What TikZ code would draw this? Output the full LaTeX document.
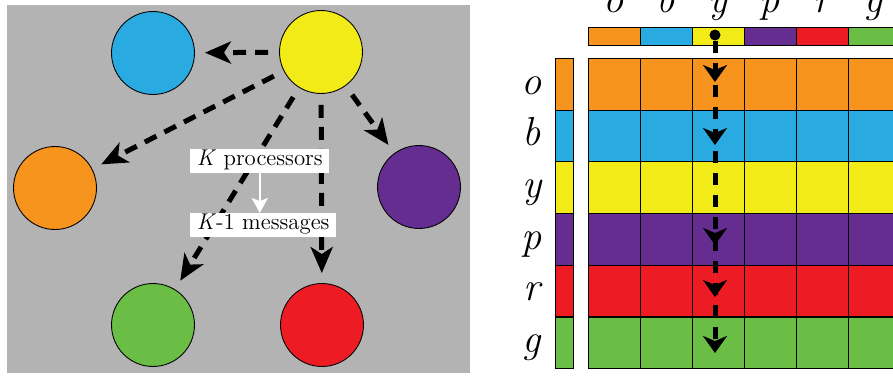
\documentclass[tikz,border=0pt]{standalone}
\usetikzlibrary{arrows.meta}

\definecolor{orng}{RGB}{247,148,30}
\definecolor{blu}{RGB}{41,171,226}
\definecolor{ylw}{RGB}{242,235,24}
\definecolor{prpl}{RGB}{102,45,145}
\definecolor{rd}{RGB}{237,28,36}
\definecolor{grn}{RGB}{106,189,69}
\definecolor{bggray}{RGB}{179,179,179}

\begin{document}
\begin{tikzpicture}[
        x=0.02cm, y=-0.02cm,
        proc/.style = {circle, draw=black, line width=0.5pt, minimum size=1.66cm, inner sep=0pt},
        msg/.style = {line width=0.1cm, dash pattern=on 0.26cm off 0.18cm,
                      -{Stealth[length=0.52cm, width=0.44cm, inset=0.14cm]},
                      shorten <=0.22cm, shorten >=0.2cm},
        bcast/.style = {line width=0.1cm, dash pattern=on 0.24cm off 0.2cm,
                      -{Stealth[length=0.34cm, width=0.48cm, inset=0.1cm]}},
        tag/.style = {fill=white, inner xsep=0.13cm, inner ysep=0.07cm, anchor=west,
                      text height=0.7em, text depth=0.22em, font=\fontsize{13}{15}\selectfont},
        cell/.style = {draw=black, line width=0.5pt, inner sep=0pt, anchor=north west,
                      minimum width=1.04cm, minimum height=1.034cm},
        hdr/.style = {cell, minimum height=0.36cm},
        side/.style = {cell, minimum width=0.36cm},
        letter/.style = {font=\fontsize{23}{26}\selectfont\itshape, anchor=base, inner sep=0pt},
        dotnode/.style = {circle, fill=black, minimum size=0.22cm, inner sep=0pt}
    ]
 \useasboundingbox (0,0) rectangle (893,376);
 \fill[white] (0,0) rectangle (893,376);

 % left: K processors
 \fill[bggray] (7,5) rectangle (470,373);
 \node[proc, fill=blu]  (b) at (153,53)  {};
 \node[proc, fill=ylw]  (y) at (321,52)  {};
 \node[proc, fill=orng] (o) at (55,188)  {};
 \node[proc, fill=prpl] (p) at (419,187) {};
 \node[proc, fill=grn]  (g) at (153,325) {};
 \node[proc, fill=rd]   (r) at (322,325) {};
 \foreach \dst in {b,o,g,r,p}
     \draw[msg] (y) -- (\dst);
 \node[tag] (kp) at (190,161) {\textit{K} processors};
 \node[tag] (km) at (190,225) {\textit{K}-1 messages};
 \draw[white, line width=0.04cm, -{Stealth[length=0.3cm, width=0.32cm, inset=0.06cm]}]
     (kp.south) -- (kp.south |- km.north);

 % right: rows and columns
 \foreach \rw/\col [count=\ci from 0] in {o/orng,b/blu,y/ylw,p/prpl,r/rd,g/grn}{
     \foreach \cj in {0,...,5}
         \node[cell, fill=\col] (m-\rw-\cj) at ({588+52*\cj},{58+51.7*\ci}) {};
     \node[side, fill=\col] (s-\rw) at (555,{58+51.7*\ci}) {};
     \node[letter] (l-\rw) at (532,{94+51.7*\ci}) {\rw};
     \node[hdr, fill=\col] (h-\rw) at ({588+52*\ci},27) {};
     \node[letter] (t-\rw) at ({614+52*\ci},12) {\rw};
 }
 \node[dotnode] (dot) at (715,35) {};
 \coordinate (e-o) at (715,82);
 \coordinate (e-b) at (715,145);
 \coordinate (e-p) at (715,245);
 \coordinate (e-r) at (715,297);
 \coordinate (e-g) at (715,353);
 \foreach \dst in {g,r,p,b,o}
     \draw[bcast] (dot) -- (e-\dst);
\end{tikzpicture}
\end{document}
